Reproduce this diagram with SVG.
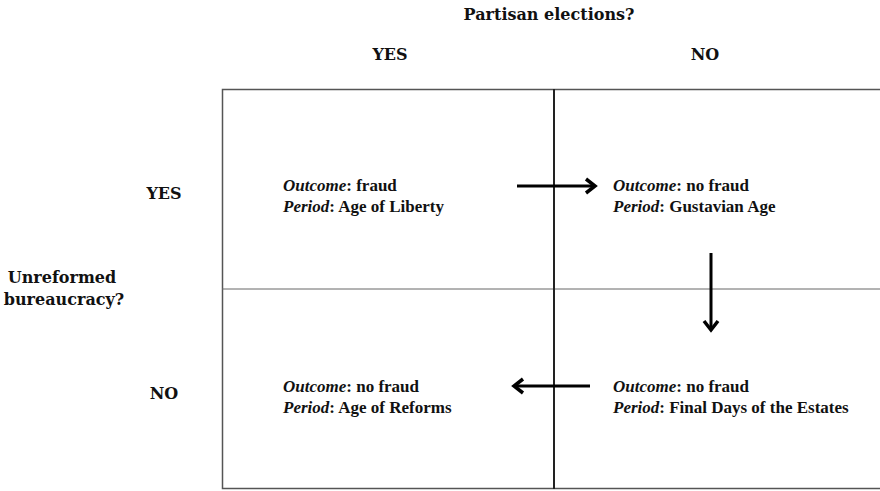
<svg xmlns="http://www.w3.org/2000/svg" width="880" height="491" viewBox="0 0 880 491">
<style>
text{font-family:"DejaVu Serif",serif;font-weight:bold;font-size:16px;fill:#111}
.c{font-family:"Liberation Serif","DejaVu Serif",serif;font-size:17px}
.i{font-style:italic}
.grid{stroke:#555;stroke-width:1.5;fill:none}
</style>
<g id="headers">
<text x="549" y="20" text-anchor="middle">Partisan elections?</text>
<text x="390" y="60" text-anchor="middle">YES</text>
<text x="705" y="60" text-anchor="middle">NO</text>
<text x="164" y="199" text-anchor="middle">YES</text>
<text x="164" y="399" text-anchor="middle">NO</text>
<text x="62" y="283" text-anchor="middle">Unreformed</text>
<text x="64" y="305" text-anchor="middle">bureaucracy?</text>
</g>
<g id="grid">
<rect x="222.5" y="89.5" width="660" height="399" class="grid"/>
<line x1="222" y1="289" x2="880" y2="289" stroke="#666" stroke-width="1"/>
<line x1="554" y1="89" x2="554" y2="489" stroke="#222" stroke-width="2"/>
</g>
<g id="cell-yes-yes">
<text class="c" x="283" y="191"><tspan class="i">Outcome</tspan>: fraud</text>
<text class="c" x="283" y="212"><tspan class="i">Period</tspan>: Age of Liberty</text>
</g>
<g id="cell-yes-no">
<text class="c" x="613" y="191"><tspan class="i">Outcome</tspan>: no fraud</text>
<text class="c" x="613" y="212"><tspan class="i">Period</tspan>: Gustavian Age</text>
</g>
<g id="cell-no-yes">
<text class="c" x="283" y="392"><tspan class="i">Outcome</tspan>: no fraud</text>
<text class="c" x="283" y="413"><tspan class="i">Period</tspan>: Age of Reforms</text>
</g>
<g id="cell-no-no">
<text class="c" x="613" y="392"><tspan class="i">Outcome</tspan>: no fraud</text>
<text class="c" x="613" y="413"><tspan class="i">Period</tspan>: Final Days of the Estates</text>
</g>
<g id="connectors" stroke="#000" stroke-width="3" fill="none" stroke-linecap="butt">
<line x1="517" y1="186" x2="595" y2="186"/>
<polyline points="586,179 595,186 586,193" stroke-width="3.5" stroke-linejoin="miter"/>
<line x1="711" y1="253" x2="711" y2="330"/>
<polyline points="704,321 711,330 718,321" stroke-width="3.5" stroke-linejoin="miter"/>
<line x1="590" y1="386" x2="514" y2="386"/>
<polyline points="523,379 514,386 523,393" stroke-width="3.5" stroke-linejoin="miter"/>
</g>
</svg>
